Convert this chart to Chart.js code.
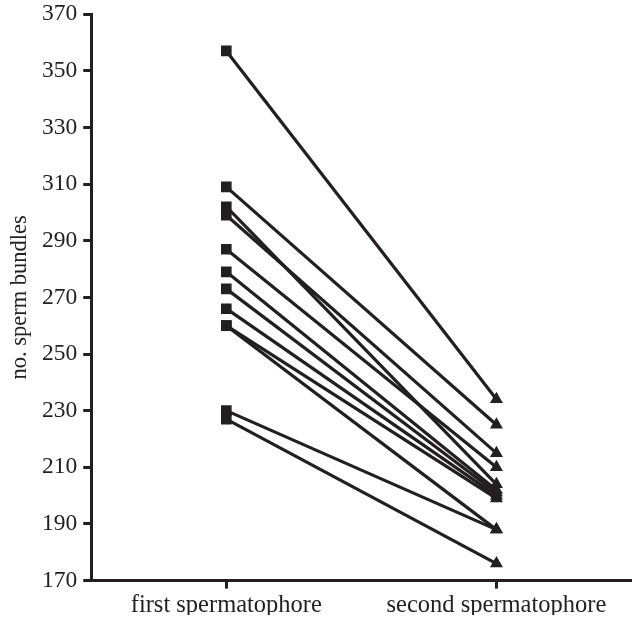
<!DOCTYPE html>
<html>
<head>
<meta charset="utf-8">
<script src="https://cdn.jsdelivr.net/npm/chart.js@4/dist/chart.umd.min.js"></script>
<style>
  html, body { margin: 0; padding: 0; background: #fff; overflow: hidden; }
  #wrap { width: 639px; height: 621px; margin-top: -6px; }
</style>
</head>
<body>
<div id="wrap"><canvas id="spermChart"></canvas></div>
<script>
// paired counts: first vs second spermatophore, one line per male
const categories = ['first spermatophore', 'second spermatophore'];
const firstCounts = [357, 309, 302, 299, 287, 279, 273, 266, 260, 260, 230, 227];
const secondCounts = [234, 225, 204, 215, 210, 202, 201, 200, 199, 188, 188, 176];
const yTicks = [170, 190, 210, 230, 250, 270, 290, 310, 330, 350, 370];

const ink = '#231f20';
const serif = 'Liberation Serif';

const datasets = firstCounts.map((v, i) => ({
  data: [v, secondCounts[i]],
  borderColor: ink,
  borderWidth: 3.2,
  backgroundColor: ink,
  pointBackgroundColor: ink,
  pointBorderColor: ink,
  pointBorderWidth: 0,
  pointStyle: ['rect', 'triangle'],
  pointRadius: 7.5,
  tension: 0
}));

new Chart(document.getElementById('spermChart'), {
  type: 'line',
  data: { labels: categories, datasets: datasets },
  options: {
    responsive: true,
    maintainAspectRatio: false,
    animation: false,
    layout: { padding: { top: 0, right: 0, left: 5, bottom: -7 } },
    plugins: { legend: { display: false }, tooltip: { enabled: false } },
    scales: {
      x: {
        type: 'category',
        offset: true,
        grid: { display: true, drawOnChartArea: false, drawTicks: true, tickLength: 8, tickWidth: 3, color: ink, offset: false },
        border: { display: true, color: ink, width: 3 },
        ticks: { color: ink, font: { family: serif, size: 24.5 }, padding: 2 }
      },
      y: {
        min: 170,
        max: 370,
        afterBuildTicks: (axis) => { axis.ticks = yTicks.map(v => ({ value: v })); },
        grid: { display: true, drawOnChartArea: false, drawTicks: true, tickLength: 8, tickWidth: 3, color: ink },
        border: { display: true, color: ink, width: 3 },
        ticks: { color: ink, font: { family: serif, size: 23.5 }, padding: 6 },
        title: { display: true, text: 'no. sperm bundles', color: ink, font: { family: serif, size: 22.5 }, padding: 2 }
      }
    }
  }
});
</script>
</body>
</html>
